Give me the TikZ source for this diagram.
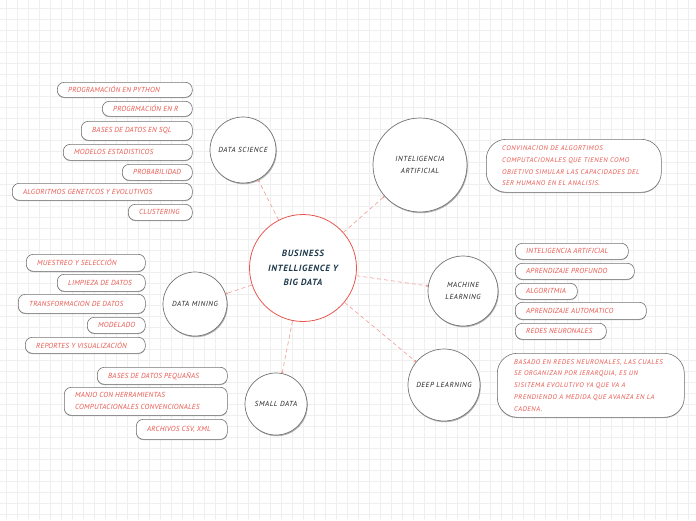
\documentclass[tikz,border=0pt]{standalone}
\usepackage{fontspec}
\setmainfont{PT Sans}
\usetikzlibrary{arrows.meta,shadows}
\definecolor{subred}{HTML}{E8574E}
\definecolor{conncol}{HTML}{F29A92}
\definecolor{navy}{HTML}{1E3A4C}
\definecolor{gridc}{HTML}{EFEFEF}
\definecolor{edgec}{HTML}{747474}
\definecolor{topictext}{HTML}{222222}
\newcommand\subbox[6]{%
  \node[subshape, anchor=north west, minimum width={#4pt-#2pt}, minimum height={#5pt-#3pt}] (#1) at (#2,#3) {};
  \node[subtext, anchor=west] (#1-t) at ([xshift=11pt]#1.west) {#6};
}
\begin{document}
\begin{tikzpicture}[x=1pt,y=-1pt,
  topic/.style={circle, draw=edgec, line width=0.7pt, fill=white, inner sep=0pt, align=center,
    text=topictext, font=\itshape\fontsize{7.3}{12.5}\selectfont\addfontfeature{LetterSpace=8},
    drop shadow={shadow xshift=0.8pt, shadow yshift=-1.2pt, opacity=0.3, fill=black}},
  central/.style={circle, draw=subred, line width=0.8pt, fill=white, inner sep=0pt, align=center,
    text=navy, font=\bfseries\itshape\fontsize{9}{14.5}\selectfont\addfontfeature{LetterSpace=8}},
  subshape/.style={draw=edgec, line width=0.6pt, fill=white, rounded corners=7pt, inner sep=0pt,
    drop shadow={shadow xshift=0pt, shadow yshift=-0.8pt, opacity=0.3, fill=black}},
  descshape/.style={draw=edgec, line width=0.6pt, fill=white, rounded corners=20pt, inner sep=0pt,
    drop shadow={shadow xshift=0pt, shadow yshift=-0.8pt, opacity=0.3, fill=black}},
  subtext/.style={inner sep=0pt, text=subred, align=left, font=\itshape\fontsize{7.3}{12}\selectfont\addfontfeature{LetterSpace=3}},
  desctext/.style={inner sep=0pt, text=subred, align=left, font=\itshape\fontsize{6.8}{11.7}\selectfont\addfontfeature{LetterSpace=8}},
  conn/.style={draw=conncol, line width=0.6pt, dash pattern=on 4pt off 3pt, -{Circle[length=2.2pt]}}
]
\useasboundingbox (0,0) rectangle (696,520);
\fill[white] (0,0) rectangle (696,520);
\foreach \gx in {6,17,...,696} \draw[gridc, line width=0.7pt] (\gx,0) -- (\gx,520);
\foreach \gy in {8,19,...,520} \draw[gridc, line width=0.7pt] (0,\gy) -- (696,\gy);

% central and topics
\node[central, minimum size=107pt] (bi) at (303,268) {BUSINESS\\INTELLIGENCE Y\\BIG DATA};
\node[topic, minimum size=66pt] (ds) at (243,150) {DATA SCIENCE};
\node[topic, minimum size=94pt] (ia) at (420,165) {INTELIGENCIA\\ARTIFICIAL};
\node[topic, minimum size=70pt] (ml) at (463,291) {MACHINE\\LEARNING};
\node[topic, minimum size=72pt] (dl) at (444,385) {DEEP LEARNING};
\node[topic, minimum size=62pt] (sd) at (276,404) {SMALL DATA};
\node[topic, minimum size=64pt] (dm) at (195,304) {DATA MINING};

\foreach \t in {ds,ia,ml,dl,sd,dm} \draw[conn] (bi) -- (\t);

% data science
\subbox{ds1}{57}{82}{192}{97}{PROGRAMACIÓN EN PYTHON}
\subbox{ds2}{102}{101}{192}{116}{PROGRMACIÓN EN R}
\subbox{ds3}{81}{121}{192}{140}{BASES DE DATOS EN SQL}
\subbox{ds4}{63}{144}{192}{160}{MODELOS ESTADISTICOS}
\subbox{ds5}{122}{164}{192}{180}{PROBABILIDAD}
\subbox{ds6}{12}{183}{192}{200}{ALGORITMOS GENETICOS Y EVOLUTIVOS}
\subbox{ds7}{128}{204}{192}{220}{CLUSTERING}

% data mining
\subbox{dm1}{26}{254}{145}{271}{MUESTREO Y SELECCIÓN}
\subbox{dm2}{57}{274}{145}{291}{LIMPIEZA DE DATOS}
\subbox{dm3}{18}{294}{145}{313}{TRANSFORMACION DE DATOS}
\subbox{dm4}{87}{317}{145}{333}{MODELADO}
\subbox{dm5}{25}{337}{145}{353}{REPORTES Y VISUALIZACIÓN}

% machine learning
\subbox{ml1}{515}{243}{628}{259}{INTELIGENCIA ARTIFICIAL}
\subbox{ml2}{515}{263}{634}{279}{APRENDIZAJE PROFUNDO}
\subbox{ml3}{515}{283}{577}{299}{ALGORITMIA}
\subbox{ml4}{515}{302}{646}{319}{APRENDIZAJE AUTOMATICO}
\subbox{ml5}{515}{323}{606}{339}{REDES NEURONALES}

% small data
\subbox{sd1}{97}{367}{227}{384}{BASES DE DATOS PEQUAÑAS}
\subbox{sd2}{64}{387}{227}{415}{MANJO CON HERRAMIENTAS\\COMPUTACIONALES CONVENCIONALES}
\subbox{sd3}{136}{419}{227}{439}{ARCHIVOS CSV, XML}

% descriptions
\node[descshape, anchor=north west, minimum width=175pt, minimum height=53pt] (iad) at (486,139) {};
\node[desctext, anchor=west] (iad-t) at ([xshift=16pt]iad.west) {CONVINACION DE ALGORTIMOS\\COMPUTACIONALES QUE TIENEN COMO\\OBJETIVO SIMULAR LAS CAPACIDADES DEL\\SER HUMANO EN EL ANALISIS.};
\node[descshape, anchor=north west, minimum width=187pt, minimum height=64pt] (dld) at (497,353) {};
\node[desctext, anchor=west] (dld-t) at ([xshift=17pt]dld.west) {BASADO EN REDES NEURONALES, LAS CUALES\\SE ORGANIZAN POR JERARQUIA, ES UN\\SISITEMA EVOLUTIVO YA QUE VA A\\PRENDIENDO A MEDIDA QUE AVANZA EN LA\\CADENA.};
\end{tikzpicture}
\end{document}
